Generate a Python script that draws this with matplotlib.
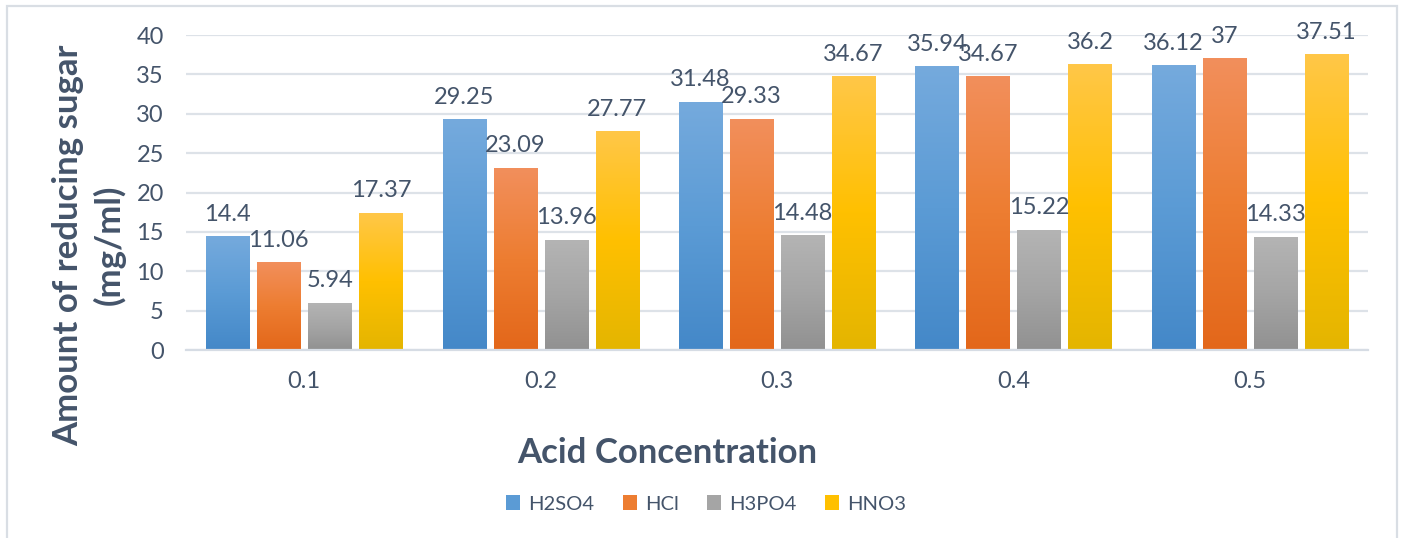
import matplotlib
matplotlib.use("agg")
import matplotlib.pyplot as plt
from matplotlib.colors import LinearSegmentedColormap
from matplotlib.patches import Patch, Rectangle
import numpy as np

#### data ####
concentrations = ["0.1", "0.2", "0.3", "0.4", "0.5"]
acids = ["H2SO4", "HCl", "H3PO4", "HNO3"]
h2so4 = [14.4, 29.25, 31.48, 35.94, 36.12]
hcl = [11.06, 23.09, 29.33, 34.67, 37]
h3po4 = [5.94, 13.96, 14.48, 15.22, 14.33]
hno3 = [17.37, 27.77, 34.67, 36.2, 37.51]
series = [h2so4, hcl, h3po4, hno3]

# (bottom, middle, top) gradient colours per series
grads = [("#4488C8", "#5B9BD5", "#75AADD"),
         ("#E3671A", "#ED7D31", "#F28F5C"),
         ("#919191", "#A5A5A5", "#B4B4B4"),
         ("#E4B500", "#FFC000", "#FFC748")]
txt = "#44546A"

plt.rcParams['font.family'] = ['Lato', 'DejaVu Sans']

fig = plt.figure(figsize=(14.01, 5.38), dpi=100)
ax = fig.add_axes([0.1328, 0.3494, 0.8436, 0.5855])

x = np.arange(len(concentrations))
w = 0.182
pitch = 0.216
grad = np.linspace(0, 1, 256).reshape(-1, 1)
for i, (vals, g) in enumerate(zip(series, grads)):
    cmap = LinearSegmentedColormap.from_list("g%d" % i, list(g))
    xs = x + (i - 1.5) * pitch
    bars = ax.bar(xs, vals, w, color="none", edgecolor="none", zorder=2)
    for b, v in zip(bars, vals):
        x0 = b.get_x()
        ax.imshow(grad, cmap=cmap, origin="lower", aspect="auto",
                  extent=[x0, x0 + w, 0, v], zorder=2)
        ax.text(x0 + w / 2, v + 2.0, "%g" % v, ha="center", va="baseline",
                fontsize=17, color=txt, zorder=3)

ax.set_xlim(-0.5, 4.5)
ax.set_ylim(0, 40)
ax.set_yticks(range(0, 41, 5))
ax.set_xticks(x)
ax.set_xticklabels(concentrations)
ax.tick_params(axis="both", length=0, labelsize=17, colors=txt)
ax.tick_params(axis="y", pad=16)
ax.tick_params(axis="x", pad=15)
ax.grid(axis="y", color="#DDE2E8", linewidth=1.6, zorder=0)
ax.set_axisbelow(True)
for s in ["top", "right", "left"]:
    ax.spines[s].set_visible(False)
ax.spines["bottom"].set_color("#D6DCE4")
ax.spines["bottom"].set_linewidth(1.6)

fig.text(667 / 1401, 1 - 453 / 538, "Acid Concentration", ha="center",
         va="center", fontsize=25, fontweight="bold", color=txt)
fig.text(89 / 1401, 1 - 245 / 538, "Amount of reducing sugar\n(mg/ml)",
         rotation=90, ha="center", va="center", multialignment="center",
         fontsize=25, fontweight="bold", color=txt, linespacing=1.3)

handles = [Patch(facecolor=g[1], edgecolor="none") for g in grads]
fig.legend(handles, acids, loc="center", bbox_to_anchor=(706 / 1401, 1 - 504 / 538),
           ncol=4, frameon=False, fontsize=14.5, labelcolor=txt,
           handlelength=0.7, handleheight=0.7, handletextpad=0.4,
           columnspacing=1.4)

fig.patches.append(Rectangle((7 / 1401, -0.01), 1390 / 1401, 1.01 - 6 / 538,
                             transform=fig.transFigure, fill=False,
                             edgecolor="#D9DEE4", linewidth=1.6))

fig.savefig("out.png", dpi=100)
